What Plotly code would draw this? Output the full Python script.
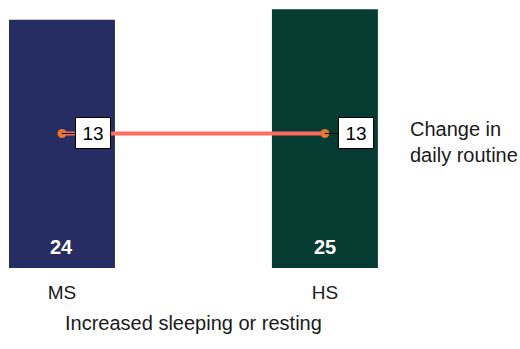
import plotly.graph_objects as go

# Chart data
categories = ["MS", "HS"]
bar_values = [24, 25]
routine_values = [13, 13]
bar_colors = ["#262D62", "#063B32"]
axis_title = "Increased sleeping or resting"
series_name = "Change in<br>daily routine"

xpos = list(range(len(categories)))
FONT = "Liberation Sans, Arial, sans-serif"

fig = go.Figure()

fig.add_trace(go.Bar(
    x=xpos, y=bar_values, width=0.403,
    marker=dict(color=bar_colors, line=dict(width=0)),
    hoverinfo="skip", showlegend=False,
))

fig.add_trace(go.Scatter(
    x=xpos, y=routine_values, mode="lines+markers",
    line=dict(color="#FF6B5E", width=4),
    marker=dict(color="#E8762B", size=9),
    showlegend=False,
))

annotations = []
# value labels at the base of each bar
for xi, v in zip(xpos, bar_values):
    annotations.append(dict(
        x=xi, y=0, xref="x", yref="y", text=f"<b>{v}</b>",
        showarrow=False, yanchor="middle", yshift=21,
        font=dict(family=FONT, size=20, color="white"),
    ))
# callout labels for the line points
for xi, v in zip(xpos, routine_values):
    annotations.append(dict(
        x=xi, y=v, xref="x", yref="y", text=str(v),
        showarrow=True, arrowhead=0, arrowwidth=1, arrowcolor="black",
        ax=31, ay=0, bgcolor="white", bordercolor="black",
        borderwidth=1, borderpad=3, width=28, height=24,
        font=dict(family=FONT, size=19, color="black"),
    ))
# series label on the right
annotations.append(dict(
    x=408 / 520, y=0.47, xref="paper", yref="paper", text=series_name,
    showarrow=False, xanchor="left", yanchor="middle", align="left",
    font=dict(family=FONT, size=20, color="#1a1a1a"),
))
# x axis title
annotations.append(dict(
    x=0.5, y=-0.205, xref="x", yref="paper", text=axis_title,
    showarrow=False, xanchor="center", yanchor="middle",
    font=dict(family=FONT, size=20, color="#1a1a1a"),
))

fig.update_layout(
    width=520, height=349,
    margin=dict(l=0, r=0, t=0, b=81),
    paper_bgcolor="white", plot_bgcolor="white",
    annotations=annotations,
    xaxis=dict(
        range=[-0.2357, 1.742], tickvals=xpos, ticktext=categories,
        showgrid=False, zeroline=False, showline=False, ticks="",
        tickfont=dict(family=FONT, size=19, color="#1a1a1a"),
        ticklabelstandoff=11,
    ),
    yaxis=dict(range=[0, 25.9], visible=False, showgrid=False, zeroline=False),
)

fig.write_html("out.html")
